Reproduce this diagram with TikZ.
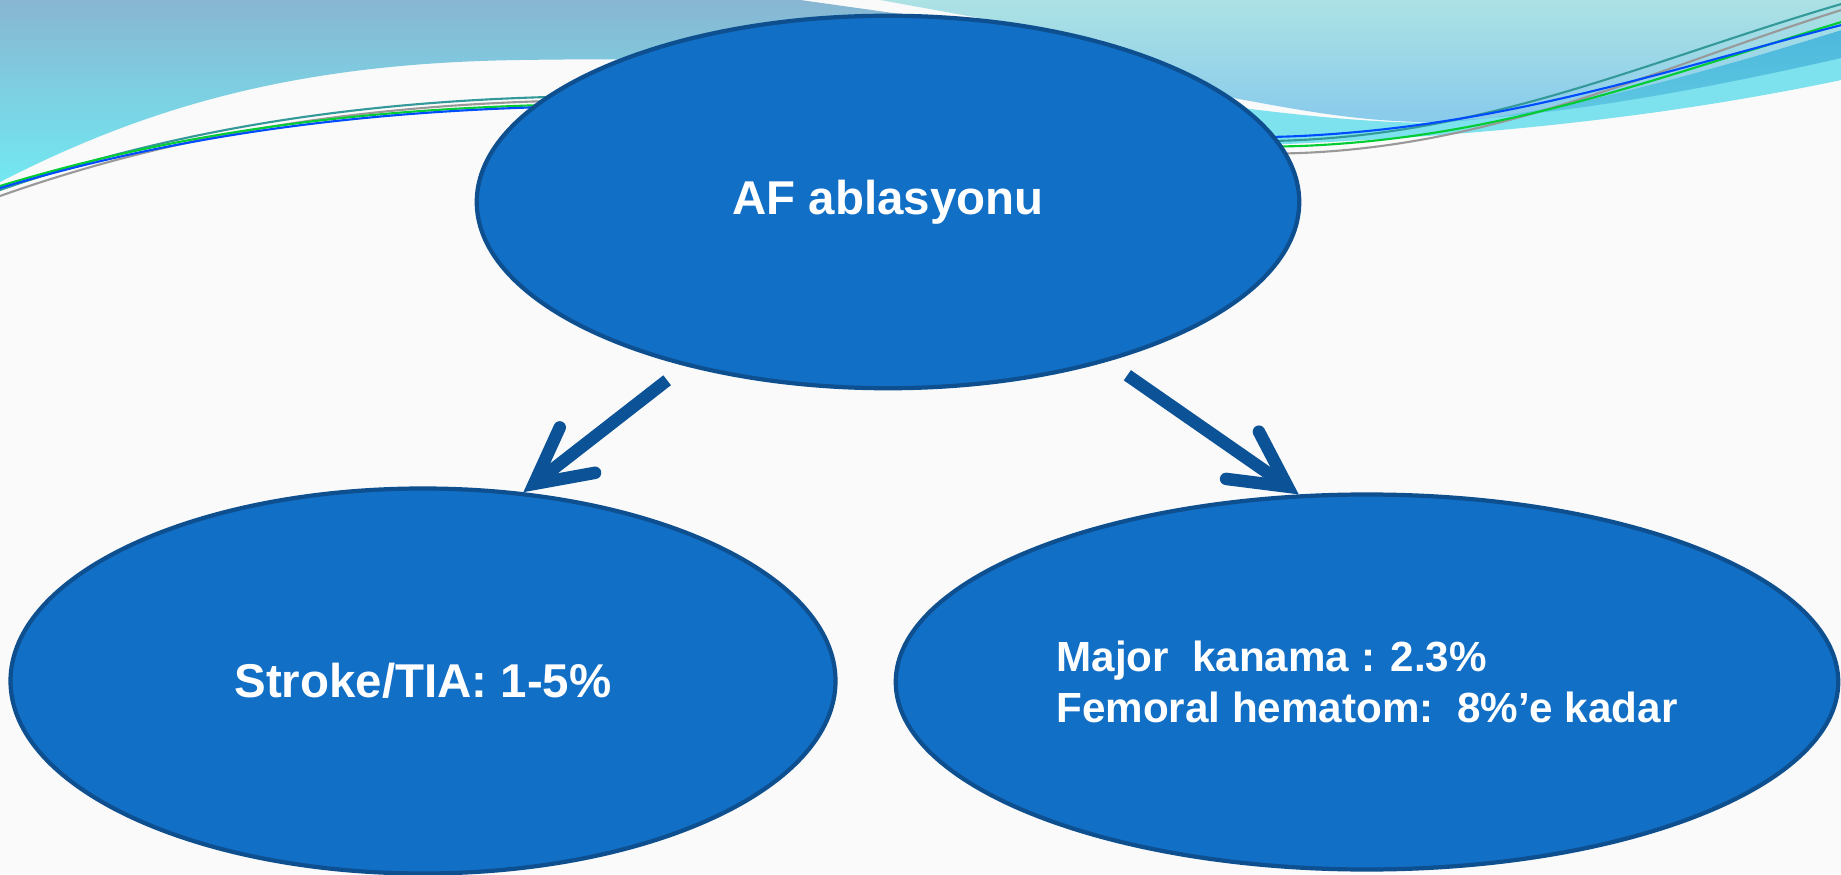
\documentclass[tikz,border=0pt]{standalone}
\usepackage{fontspec}
\setmainfont{Liberation Sans}
\usepackage{xcolor}
\definecolor{ovalblue}{HTML}{116FC6}
\definecolor{ovaledge}{HTML}{0D4F8F}
\definecolor{arrowblue}{HTML}{0B5296}
\definecolor{paper}{HTML}{FAFAFA}
\definecolor{skytop}{HTML}{88B6D2}
\definecolor{skycyan}{HTML}{72E8F1}
\definecolor{palecyan}{HTML}{ACE2E4}
\definecolor{paleblue}{HTML}{88CAEC}
\definecolor{bandcyan}{HTML}{7DE2EE}
\definecolor{midblue}{HTML}{4DB8DC}
\usepackage{tikz}
\usetikzlibrary{
    shapes.geometric,
    arrows.meta,
    positioning,
    calc
}

\begin{document}
\begin{tikzpicture}[
    bubble/.style={ellipse, draw=ovaledge, line width=2.4pt, fill=ovalblue, text=white, inner sep=2pt,
        align=center, font=\fontsize{27}{32}\selectfont\bfseries},
    arr/.style={draw=arrowblue, line width=0.25cm,
        -{Straight Barb[line cap=round, line join=miter, length=1.1cm, width=1.15cm]}},
    swirl/.style={line width=1.2pt}
]
\useasboundingbox (0,0) rectangle (36.82,17.48);
\fill[paper] (0,0) rectangle (36.82,17.48);

% ==================== BACKGROUND WAVES ====================
\begin{scope}[x=0.02cm, y=-0.02cm, yshift=17.48cm]
    \shade[top color=skytop, bottom color=skycyan]
        (0,0) -- (800,0) -- (900,14) -- (950,70)
        .. controls (800,60) and (650,58) .. (520,60)
        .. controls (300,63) and (150,105) .. (0,182) -- cycle;
    \fill[bandcyan]
        (1150,95) .. controls (1300,118) and (1400,125) .. (1450,122)
        -- (1841,40) -- (1841,80)
        .. controls (1650,120) and (1450,140) .. (1200,147) -- cycle;
    \shade[top color=palecyan, bottom color=paleblue]
        (880,0) -- (1841,0) -- (1841,30)
        .. controls (1650,90) and (1500,125) .. (1420,122)
        .. controls (1340,120) and (1280,106) .. (1200,92) -- (1100,40) -- cycle;
    \shade[top color=midblue, bottom color=midblue!60!bandcyan]
        (1841,30) .. controls (1650,90) and (1500,125) .. (1420,122)
        .. controls (1550,118) and (1700,90) .. (1841,58) -- cycle;
    \draw[swirl, gray!80]
        (0,196) .. controls (200,125) and (400,102) .. (600,100)
        .. controls (900,98) and (1100,160) .. (1300,153)
        .. controls (1500,145) and (1650,70) .. (1841,10);
    \draw[swirl, teal!80]
        (0,190) .. controls (200,120) and (400,98) .. (600,96)
        .. controls (900,94) and (1100,150) .. (1300,140)
        .. controls (1500,130) and (1650,60) .. (1841,4);
    \draw[swirl, green!60!teal]
        (0,186) .. controls (200,125) and (400,106) .. (600,104)
        .. controls (900,102) and (1100,152) .. (1300,146)
        .. controls (1500,138) and (1650,80) .. (1841,22);
    \draw[swirl, blue!70!cyan]
        (0,188) .. controls (200,128) and (400,108) .. (600,106)
        .. controls (900,104) and (1100,145) .. (1300,136)
        .. controls (1500,126) and (1650,75) .. (1841,25);
\end{scope}

% ==================== AF ABLATION ====================
\node[bubble, minimum width=16.45cm, minimum height=7.45cm] (ablation) at (17.76,13.44) {AF ablasyonu};

% ==================== COMPLICATIONS ====================
\node[bubble, minimum width=16.5cm, minimum height=7.7cm] (stroke) at (8.46,3.86) {Stroke/TIA: 1-5\%};
\node[bubble, minimum width=18.85cm, minimum height=7.5cm,
    font=\fontsize{24}{29.4}\selectfont\bfseries, align=left] (bleeding) at (27.34,3.84)
    {Major\ \ kanama : 2.3\%\\Femoral hematom:\ \ 8\%’e kadar};

\draw[arr, shorten <=0.46cm] (ablation.219) -- (stroke.62);
\draw[arr, shorten <=0.48cm] (ablation.-36) -- (bleeding.110);

\end{tikzpicture}
\end{document}
